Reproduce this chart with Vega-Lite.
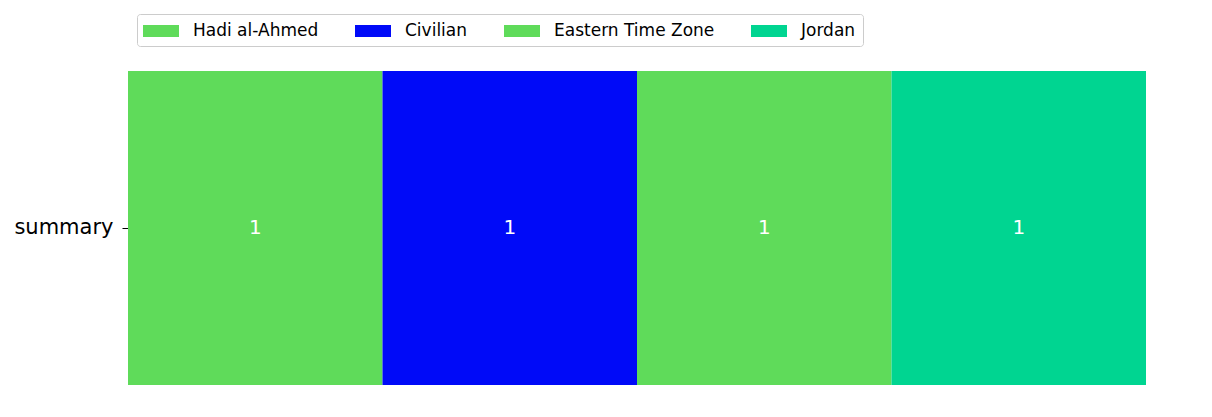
{
  "$schema": "https://vega.github.io/schema/vega-lite/v6.json",
  "autosize": "none",
  "width": 1018,
  "height": 314,
  "padding": {"left": 128, "top": 71, "right": 66, "bottom": 32},
  "background": "white",
  "config": {
    "view": {"stroke": null},
    "font": "DejaVu Sans"
  },
  "data": {
    "values": [
      {"row": "summary", "category": "Hadi al-Ahmed", "value": 1, "idx": 0},
      {"row": "summary", "category": "Civilian", "value": 1, "idx": 1},
      {"row": "summary", "category": "Eastern Time Zone", "value": 1, "idx": 2},
      {"row": "summary", "category": "Jordan", "value": 1, "idx": 3}
    ]
  },
  "transform": [
    {"stack": "value", "groupby": ["row"], "sort": [{"field": "idx", "order": "ascending"}], "as": ["x0", "x1"]},
    {"calculate": "(datum.x0 + datum.x1) / 2", "as": "xm"}
  ],
  "encoding": {
    "y": {
      "field": "row",
      "type": "nominal",
      "scale": {"paddingInner": 0, "paddingOuter": 0},
      "axis": {
        "title": null,
        "domain": false,
        "labelFontSize": 21,
        "labelColor": "black",
        "tickColor": "black",
        "tickSize": 6,
        "labelPadding": 9,
        "labelFont": "DejaVu Sans"
      }
    }
  },
  "layer": [
    {
      "mark": {"type": "bar", "strokeWidth": 0},
      "encoding": {
        "x": {"field": "x0", "type": "quantitative", "scale": {"domain": [0, 4], "nice": false}, "axis": null},
        "x2": {"field": "x1"},
        "color": {
          "field": "category",
          "type": "nominal",
          "scale": {
            "domain": ["Hadi al-Ahmed", "Civilian", "Eastern Time Zone", "Jordan"],
            "range": ["#5fdb5a", "#000af8", "#5fdb5a", "#00d591"]
          },
          "legend": {
            "title": null,
            "orient": "none",
            "legendX": 9,
            "legendY": -57,
            "direction": "horizontal",
            "columns": 4,
            "columnPadding": 36,
            "padding": 7,
            "strokeColor": "#cccccc",
            "cornerRadius": 3,
            "fillColor": "white",
            "symbolType": "M-1.8,-0.6H1.8V0.6H-1.8Z",
            "symbolSize": 400,
            "symbolOffset": 7,
            "symbolStrokeWidth": 0,
            "symbolOpacity": 1,
            "labelFontSize": 17,
            "labelFont": "DejaVu Sans",
            "labelColor": "black",
            "labelOffset": 22,
            "labelLimit": 400
          }
        },
        "order": {"field": "idx"}
      }
    },
    {
      "mark": {"type": "text", "color": "white", "fontSize": 20, "baseline": "middle", "align": "center", "font": "DejaVu Sans"},
      "encoding": {
        "x": {"field": "xm", "type": "quantitative"},
        "text": {"field": "value", "type": "quantitative"}
      }
    }
  ]
}
